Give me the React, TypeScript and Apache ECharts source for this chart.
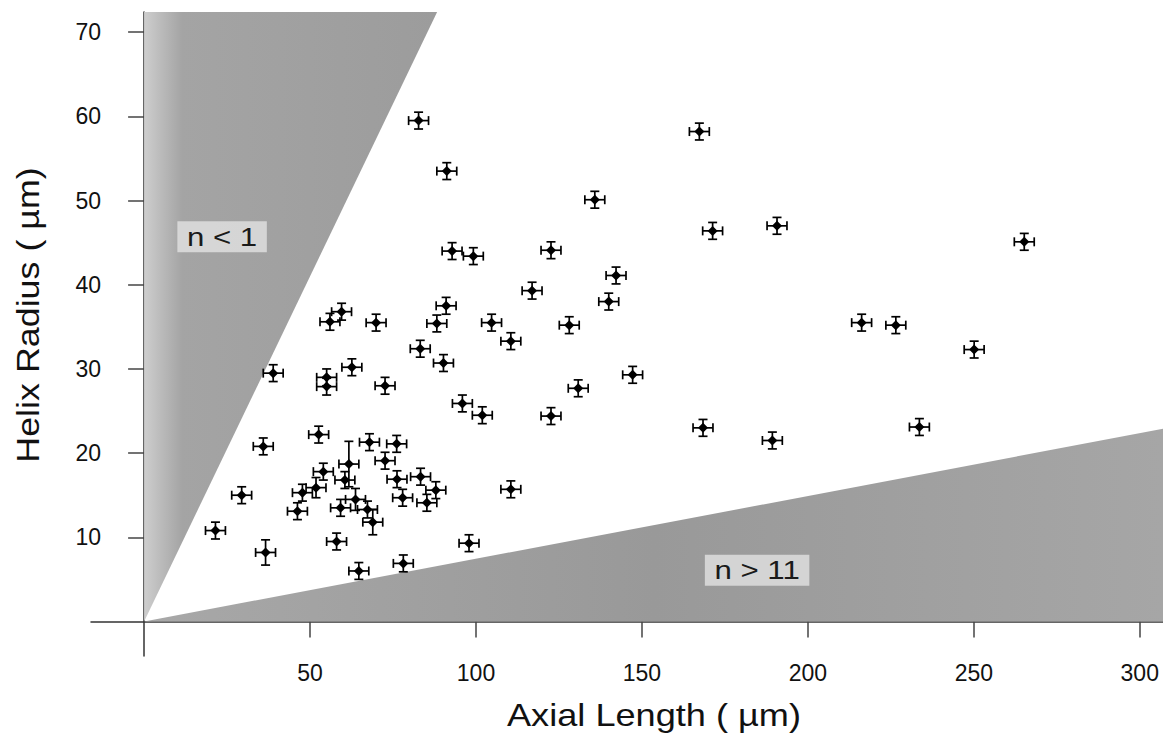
import React, { useEffect, useRef } from "react";
import * as echarts from "echarts";

// Measured helices: axial length and radius (µm) with their uncertainties.
const axialLength = [
  21.5, 29.4, 35.9, 36.6, 38.9, 46.2, 47.7, 51.8, 52.6, 54.0,
  55.0, 55.0, 56.0, 59.5, 58.0, 59.2, 60.5, 61.7, 62.6, 63.7,
  64.7, 67.3, 67.9, 68.9, 69.9, 72.6, 72.6, 76.1, 76.2, 77.9,
  78.1, 82.7, 83.2, 83.3, 85.2, 87.9, 88.2, 90.2, 91.0, 91.2,
  92.8, 95.9, 97.9, 99.2, 101.9, 104.7, 110.5, 110.5, 116.9, 122.6,
  122.6, 128.1, 130.8, 135.8, 140.0, 142.2, 147.2, 167.3, 168.4, 171.3,
  189.3, 190.7, 216.2, 226.5, 233.6, 250.1, 265.2,
];
const helixRadius = [
  10.8, 15.0, 20.8, 8.2, 29.5, 13.1, 15.3, 15.9, 22.2, 17.8,
  29.0, 27.9, 35.6, 36.8, 9.5, 13.5, 16.8, 18.7, 30.2, 14.5,
  6.0, 13.3, 21.3, 11.8, 35.5, 28.0, 19.1, 21.1, 16.9, 14.7,
  6.9, 59.5, 32.4, 17.2, 14.1, 15.6, 35.4, 30.7, 37.5, 53.5,
  44.0, 25.9, 9.3, 43.4, 24.5, 35.5, 33.3, 15.7, 39.3, 44.1,
  24.4, 35.2, 27.7, 50.1, 38.0, 41.1, 29.3, 58.2, 23.0, 46.4,
  21.5, 47.0, 35.5, 35.2, 23.1, 32.3, 45.1,
];
const axialError = [
  3, 3, 3, 3, 3, 3, 3, 3, 3, 3,
  3, 3, 3, 3, 3, 3, 3, 3, 3, 3,
  3, 3, 3, 3, 3, 3, 3, 3, 3, 3,
  3, 3, 3, 3, 3, 3, 3, 3, 3, 3,
  3, 3, 3, 3, 3, 3, 3, 3, 3, 3,
  3, 3, 3, 3, 3, 3, 3, 3, 3, 3,
  3, 3, 3, 3, 3, 3, 3,
];
const radiusError = [
  1, 1, 1, 1.5, 1, 1, 1, 1.2, 1, 1,
  1, 1, 1, 1, 1, 1, 1, 2.7, 1, 1.3,
  1, 1, 1, 1.5, 1, 1, 1, 1, 1, 1,
  1, 1, 1, 1, 1, 1, 1, 1, 1, 1,
  1, 1, 1, 1, 1, 1, 1, 1, 1, 1,
  1, 1, 1, 1, 1, 1, 1, 1, 1, 1,
  1, 1, 1, 1, 1, 1, 1,
];

// Axis ticks.
const xTicks = [50, 100, 150, 200, 250, 300];
const yTicks = [10, 20, 30, 40, 50, 60, 70];

// Excluded zones: helices with fewer than 1 or more than 11 turns, r = k·L / n.
const turnLimits = [1, 11];
const turnConstant = 0.82;
const zoneLabels = ["n < 1", "n > 11"];
const zoneLabelAt = [
  [23.5, 45.7],
  [184.7, 6.1],
];

const X_MIN = -16;
const X_MAX = 307;
const Y_MIN = -4.1;
const Y_MAX = 72.4;

const FONT = "'Liberation Sans', Arial, Helvetica, sans-serif";

export default function App() {
  const ref = useRef<HTMLDivElement>(null);

  useEffect(() => {
    if (!ref.current) return;
    const chart = echarts.init(ref.current, null, { renderer: "svg" });

    const points = axialLength.map((x, i) => [x, helixRadius[i], axialError[i], radiusError[i]]);

    // Zone polygons in data coordinates.
    const zones = [
      [
        [0, 0],
        [0, Y_MAX],
        [(Y_MAX * turnLimits[0]) / turnConstant, Y_MAX],
      ],
      [
        [0, 0],
        [X_MAX, 0],
        [X_MAX, (turnConstant * X_MAX) / turnLimits[1]],
      ],
    ];
    const zoneFills = [
      new echarts.graphic.LinearGradient(0, 0, 1, 0, [
        { offset: 0, color: "#cecece" },
        { offset: 0.05, color: "#bdbdbd" },
        { offset: 0.13, color: "#a4a4a4" },
        { offset: 1, color: "#9c9c9c" },
      ]),
      new echarts.graphic.LinearGradient(0, 0, 1, 0, [
        { offset: 0, color: "#a8a8a8" },
        { offset: 0.5, color: "#999999" },
        { offset: 1, color: "#a6a6a6" },
      ]),
    ];

    chart.setOption({
      animation: false,
      backgroundColor: "#ffffff",
      grid: {
        left: 91,
        right: 0,
        top: 12,
        bottom: 84,
        containLabel: false,
        outerBoundsMode: "none",
      },
      xAxis: {
        type: "value",
        min: X_MIN,
        max: X_MAX,
        axisLine: { show: true, onZero: true, lineStyle: { color: "#333", width: 1.5 } },
        axisTick: {
          show: true,
          length: 16,
          customValues: xTicks,
          lineStyle: { color: "#444", width: 1.5 },
        },
        axisLabel: {
          customValues: xTicks,
          margin: 5,
          fontSize: 23,
          color: "#111",
          fontFamily: FONT,
        },
        splitLine: { show: false },
      },
      yAxis: {
        type: "value",
        min: Y_MIN,
        max: Y_MAX,
        axisLine: { show: true, onZero: true, lineStyle: { color: "#333", width: 1.5 } },
        axisTick: {
          show: true,
          length: 16,
          customValues: yTicks,
          lineStyle: { color: "#444", width: 1.5 },
        },
        axisLabel: {
          customValues: yTicks,
          margin: -10,
          fontSize: 23,
          color: "#111",
          fontFamily: FONT,
        },
        splitLine: { show: false },
      },
      graphic: [
        {
          type: "text",
          x: 654,
          y: 715,
          scaleX: 1.13,
          style: {
            text: "Axial Length ( µm)",
            font: `32px ${FONT}`,
            fill: "#111",
            align: "center",
            verticalAlign: "middle",
          },
        },
        {
          type: "text",
          x: 28,
          y: 315,
          rotation: Math.PI / 2,
          scaleX: 1.12,
          style: {
            text: "Helix Radius ( µm)",
            font: `32px ${FONT}`,
            fill: "#111",
            align: "center",
            verticalAlign: "middle",
          },
        },
      ],
      series: [
        {
          type: "custom",
          name: "zones",
          coordinateSystem: "cartesian2d",
          silent: true,
          z: 1,
          data: zones.map((_, i) => [i, 0]),
          encode: { x: 0, y: 1 },
          renderItem: (params: any, api: any) => {
            const poly = zones[params.dataIndex];
            return {
              type: "polygon",
              shape: { points: poly.map((p) => api.coord(p)) },
              style: { fill: zoneFills[params.dataIndex], stroke: "none" },
            };
          },
        },
        {
          type: "custom",
          name: "zone labels",
          coordinateSystem: "cartesian2d",
          silent: true,
          z: 2,
          data: zoneLabelAt,
          renderItem: (params: any, api: any) => {
            const c = api.coord([api.value(0), api.value(1)]);
            return {
              type: "text",
              x: c[0],
              y: c[1],
              scaleX: 1.2,
              style: {
                text: zoneLabels[params.dataIndex],
                font: `26px ${FONT}`,
                fill: "#1a1a1a",
                align: "center",
                verticalAlign: "middle",
                backgroundColor: "rgba(226,226,226,0.8)",
                padding: [3, 8, 2, 8],
              },
            };
          },
        },
        {
          type: "custom",
          name: "helices",
          coordinateSystem: "cartesian2d",
          z: 3,
          data: points,
          encode: { x: 0, y: 1 },
          renderItem: (params: any, api: any) => {
            const x = api.value(0);
            const y = api.value(1);
            const xe = api.value(2);
            const ye = api.value(3);
            const c = api.coord([x, y]);
            const l = api.coord([x - xe, y]);
            const r = api.coord([x + xe, y]);
            const t = api.coord([x, y + ye]);
            const b = api.coord([x, y - ye]);
            const cap = 4.5;
            const d = 5;
            const stroke = { stroke: "#000", lineWidth: 1.7 };
            return {
              type: "group",
              children: [
                { type: "line", shape: { x1: l[0], y1: l[1], x2: r[0], y2: r[1] }, style: stroke },
                { type: "line", shape: { x1: t[0], y1: t[1], x2: b[0], y2: b[1] }, style: stroke },
                { type: "line", shape: { x1: l[0], y1: l[1] - cap, x2: l[0], y2: l[1] + cap }, style: stroke },
                { type: "line", shape: { x1: r[0], y1: r[1] - cap, x2: r[0], y2: r[1] + cap }, style: stroke },
                { type: "line", shape: { x1: t[0] - cap, y1: t[1], x2: t[0] + cap, y2: t[1] }, style: stroke },
                { type: "line", shape: { x1: b[0] - cap, y1: b[1], x2: b[0] + cap, y2: b[1] }, style: stroke },
                {
                  type: "polygon",
                  shape: {
                    points: [
                      [c[0], c[1] - d],
                      [c[0] + d, c[1]],
                      [c[0], c[1] + d],
                      [c[0] - d, c[1]],
                    ],
                  },
                  style: { fill: "#000" },
                },
              ],
            };
          },
        },
      ],
    });

    return () => chart.dispose();
  }, []);

  return (
    <div
      ref={ref}
      style={{ position: "fixed", left: 0, top: 0, width: 1163, height: 740, background: "#fff" }}
    />
  );
}
